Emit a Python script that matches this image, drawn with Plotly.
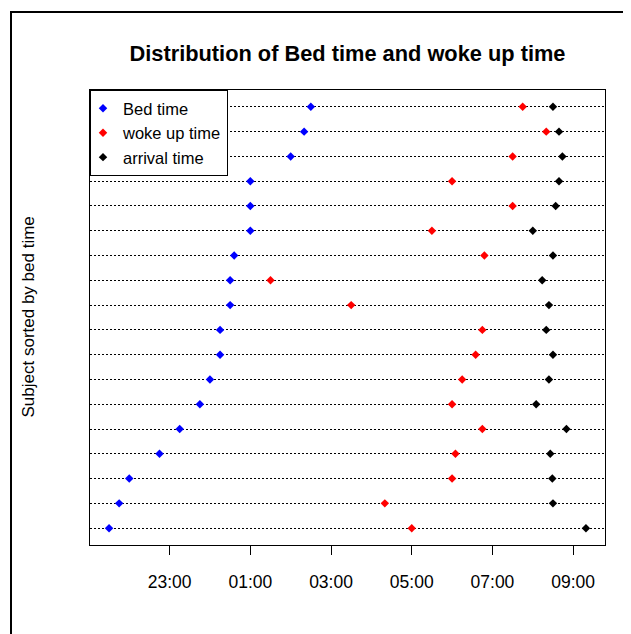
import plotly.graph_objects as go

# Rows listed bottom (first) to top (last), sorted by bed time
bed_time = ["21:30", "21:45", "22:00", "22:45", "23:15", "23:45", "00:00", "00:15", "00:15",
            "00:30", "00:30", "00:36", "01:00", "01:00", "01:00", "02:00", "02:20", "02:30"]
woke_up_time = ["05:00", "04:20", "06:00", "06:05", "06:45", "06:00", "06:15", "06:35", "06:45",
                "03:30", "01:30", "06:48", "05:30", "07:30", "06:00", "07:30", "08:20", "07:45"]
arrival_time = ["09:19", "08:30", "08:29", "08:26", "08:50", "08:05", "08:24", "08:30", "08:20",
                "08:24", "08:14", "08:30", "08:00", "08:34", "08:39", "08:44", "08:39", "08:30"]
tick_labels = ["23:00", "01:00", "03:00", "05:00", "07:00", "09:00"]


def to_hours(t):
    h, m = (int(p) for p in t.split(":"))
    v = h + m / 60.0
    return v + 24 if v < 12 else v


subjects = list(range(1, len(bed_time) + 1))
bed = [to_hours(t) for t in bed_time]
wake = [to_hours(t) for t in woke_up_time]
arr = [to_hours(t) for t in arrival_time]
tickvals = [to_hours(t) for t in tick_labels]

allv = bed + wake + arr
lo, hi = min(allv), max(allv)
pad = 0.04 * (hi - lo)
n = len(subjects)
ypad = 0.04 * (n - 1)

FONT = "Liberation Sans, Arial, sans-serif"

# page has an 8px body margin; figure coordinates = page coordinates - 8
W, H = 623, 626
L, T, R_, B = 82, 82, 597, 537  # plot area in figure pixels
PW, PH = R_ - L, B - T

fig = go.Figure()
for name, vals, col in [("Bed time", bed, "#0000FF"),
                        ("woke up time", wake, "#FF0000"),
                        ("arrival time", arr, "#000000")]:
    fig.add_trace(go.Scatter(
        x=vals, y=subjects, mode="markers", name=name,
        marker=dict(symbol="diamond", size=6.5, color=col, line=dict(width=0)),
    ))

fig.update_layout(
    width=W, height=H,
    margin=dict(l=L, r=W - R_, t=T, b=H - B, autoexpand=False),
    paper_bgcolor="white", plot_bgcolor="white",
    font=dict(family=FONT, size=17, color="black"),
    title=dict(text="<b>Distribution of Bed time and woke up time</b>",
               font=dict(family=FONT, size=21.8, color="black"),
               x=(L + R_) / 2 / W, xanchor="center",
               y=1 - 45 / H, yanchor="middle"),
    showlegend=True,
    legend=dict(x=0, y=1, xanchor="left", yanchor="top",
                bgcolor="white", bordercolor="black", borderwidth=1,
                font=dict(family=FONT, size=16.5, color="black"),
                indentation=-8, tracegroupgap=0),
    xaxis=dict(range=[lo - pad, hi + pad], tickvals=tickvals, ticktext=tick_labels,
               showgrid=False, zeroline=False, showline=True, mirror=True,
               linecolor="black", linewidth=1, ticks="outside", ticklen=9,
               tickcolor="black", tickwidth=1, ticklabelstandoff=12,
               tickfont=dict(family=FONT, size=17.5, color="black")),
    yaxis=dict(range=[1 - ypad, n + ypad], tickvals=subjects, showticklabels=False,
               ticks="", showgrid=True, gridcolor="black", gridwidth=1,
               griddash="2px,2px", zeroline=False, showline=True, mirror=True,
               linecolor="black", linewidth=1),
    annotations=[dict(text="Subject sorted by bed time", textangle=-90,
                      xref="paper", yref="paper", x=(20 - L) / PW, y=0.5,
                      xanchor="center", yanchor="middle", showarrow=False,
                      font=dict(family=FONT, size=17, color="black"))],
    shapes=[dict(type="rect", xref="paper", yref="paper",
                 x0=(3 - L) / PW, x1=(W + 40 - L) / PW,
                 y0=(B - (H + 40)) / PH, y1=(B - 4) / PH,
                 line=dict(color="black", width=2), fillcolor="rgba(0,0,0,0)",
                 layer="below")],
)

fig.write_html("out.html")
